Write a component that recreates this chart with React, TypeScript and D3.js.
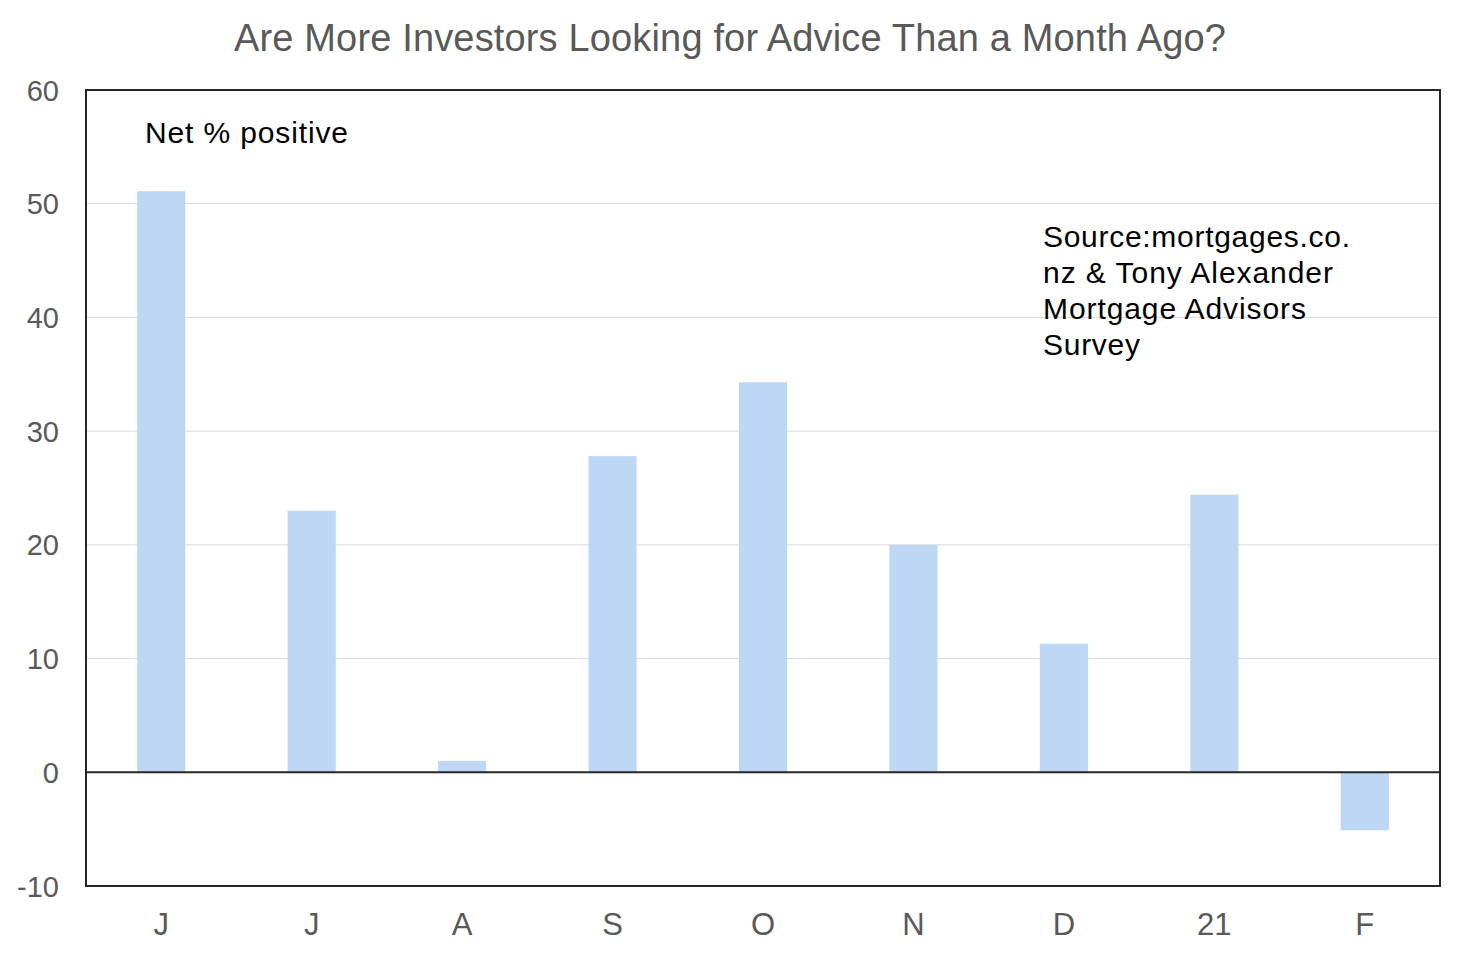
import React from "react";
import * as d3 from "d3";

const categories = ["J1", "J2", "A", "S", "O", "N", "D", "21", "F"];
const labels = ["J", "J", "A", "S", "O", "N", "D", "21", "F"];
const values = [51.1, 23.0, 1.0, 27.8, 34.3, 20.0, 11.3, 24.4, -5.1];
const yTicks = [-10, 0, 10, 20, 30, 40, 50, 60];
const sourceLines = ["Source:mortgages.co.", "nz & Tony Alexander", "Mortgage Advisors", "Survey"];
const sourceWidths = [307, 290, 263, 97];

const W = 1462, H = 954;
const L = 86, R = 1440, T = 90, B = 886;
const font = "'Liberation Sans', Arial, sans-serif";

export default function App() {
  const x = d3.scaleBand<string>().domain(categories).range([L, R]).paddingInner(0.68).paddingOuter(0.34);
  const y = d3.scaleLinear().domain([-10, 60]).range([B, T]);
  return (
    <svg width={W} height={H} style={{ position: "absolute", left: 0, top: 0, background: "#fff" }}>
      <text x={234} y={51} fontFamily={font} fontSize={38} fill="#595959" textLength={992} lengthAdjust="spacing">
        Are More Investors Looking for Advice Than a Month Ago?
      </text>
      {yTicks.filter(t => t !== 0 && t !== -10 && t !== 60).map(t => (
        <line key={t} x1={L} x2={R} y1={y(t)} y2={y(t)} stroke="#d9d9d9" strokeWidth={1} />
      ))}
      {categories.map((c, i) => {
        const v = values[i];
        return (
          <rect key={c} x={x(c)} width={x.bandwidth()} y={y(Math.max(0, v))}
            height={Math.abs(y(v) - y(0))} fill="#bdd7f4" />
        );
      })}
      <line x1={L} x2={R} y1={y(0)} y2={y(0)} stroke="#262626" strokeWidth={2} />
      <rect x={L} y={T} width={R - L} height={B - T} fill="none" stroke="#262626" strokeWidth={2} />
      {yTicks.map(t => (
        <text key={t} x={59} y={y(t) + 10.5} textAnchor="end" fontFamily={font} fontSize={29} fill="#595959">{t}</text>
      ))}
      {categories.map((c, i) => (
        <text key={c} x={(x(c) as number) + x.bandwidth() / 2} y={935} textAnchor="middle"
          fontFamily={font} fontSize={31} fill="#595959">{labels[i]}</text>
      ))}
      <text x={145} y={143} fontFamily={font} fontSize={30} fill="#000" textLength={203} lengthAdjust="spacing">Net % positive</text>
      {sourceLines.map((s, i) => (
        <text key={i} x={1043} y={246.5 + i * 36.2} fontFamily={font} fontSize={30} fill="#000"
          textLength={sourceWidths[i]} lengthAdjust="spacing">{s}</text>
      ))}
    </svg>
  );
}
